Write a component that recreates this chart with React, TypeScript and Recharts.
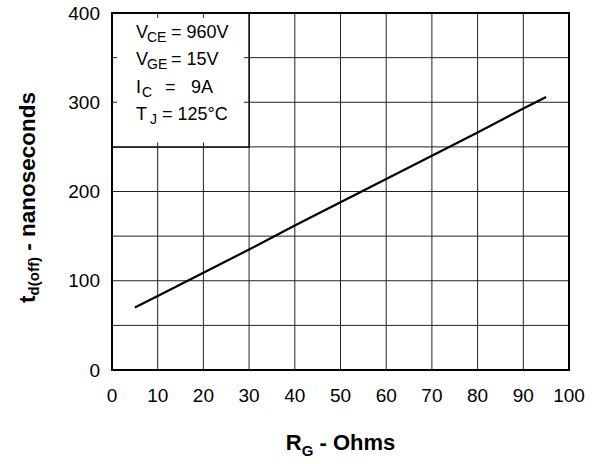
import React from "react";
import {
  LineChart,
  Line,
  XAxis,
  YAxis,
  CartesianGrid,
  ReferenceArea,
  ReferenceLine,
} from "recharts";

// gate resistance (ohms) vs turn-off delay (ns)
const rgOhms = [5, 10, 20, 30, 40, 50, 60, 70, 80, 90, 95];
const tdOffNs = [70, 83, 109, 135, 162, 188, 214, 240, 266, 293, 306];

const xTicks = [0, 10, 20, 30, 40, 50, 60, 70, 80, 90, 100];
const yTicks = [0, 50, 100, 150, 200, 250, 300, 350, 400];

const data = rgOhms.map((rg, i) => ({ rg, td: tdOffNs[i] }));

const FONT = "'Liberation Sans', Arial, sans-serif";

function ConditionsText(props: any) {
  const { x, y } = props.viewBox;
  const left = x + 24;
  const sub = { fontSize: 14 };
  return (
    <text fontFamily={FONT} fontSize={18} fill="#000">
      <tspan x={left} y={y + 25}>V</tspan>
      <tspan x={left + 11} dy={4} style={sub}>CE</tspan>
      <tspan x={left + 35} dy={-4}>= 960V</tspan>

      <tspan x={left} y={y + 52}>V</tspan>
      <tspan x={left + 11} dy={4} style={sub}>GE</tspan>
      <tspan x={left + 35} dy={-4}>= 15V</tspan>

      <tspan x={left} y={y + 80}>I</tspan>
      <tspan x={left + 6} dy={4} style={sub}>C</tspan>
      <tspan x={left + 29} dy={-4}>=</tspan>
      <tspan x={left + 55}>9A</tspan>

      <tspan x={left} y={y + 107}>T</tspan>
      <tspan x={left + 14} dy={4} style={sub}>J</tspan>
      <tspan x={left + 26} dy={-4}>= 125°C</tspan>
    </text>
  );
}

function XTitle(props: any) {
  const { x, width } = props.viewBox;
  return (
    <text
      x={x + width / 2}
      y={450}
      textAnchor="middle"
      fontFamily={FONT}
      fontWeight="bold"
      fontSize={22}
      fill="#000"
    >
      R<tspan dy={6} fontSize={15}>G</tspan>
      <tspan dy={-6}> - Ohms</tspan>
    </text>
  );
}

function YTitle(props: any) {
  const { y, height } = props.viewBox;
  const cx = 27;
  const cy = y + height / 2 + 6;
  return (
    <text
      x={cx}
      y={cy}
      transform={`rotate(-90 ${cx} ${cy})`}
      textAnchor="middle"
      dominantBaseline="central"
      fontFamily={FONT}
      fontWeight="bold"
      fontSize={22.5}
      fill="#000"
    >
      t<tspan dy={6} fontSize={15}>d(off)</tspan>
      <tspan dy={-6}> - nanoseconds</tspan>
    </text>
  );
}

const tickStyle = { fill: "#000", fontSize: 19, fontFamily: FONT };

// short inward ticks along the edges of the conditions box
const stubs: { x1: number; y1: number; x2: number; y2: number }[] = [
  { x1: 10, y1: 400, x2: 10, y2: 394.5 },
  { x1: 20, y1: 400, x2: 20, y2: 394.5 },
  { x1: 10, y1: 250, x2: 10, y2: 255 },
  { x1: 20, y1: 250, x2: 20, y2: 255 },
  { x1: 0, y1: 350, x2: 1.1, y2: 350 },
  { x1: 0, y1: 300, x2: 1.1, y2: 300 },
  { x1: 30, y1: 350, x2: 28.9, y2: 350 },
  { x1: 30, y1: 300, x2: 28.9, y2: 300 },
];

export default function App() {
  return (
    <div style={{ position: "absolute", left: 0, top: 0, background: "#fff" }}>
      <LineChart
        width={604}
        height={464}
        data={data}
        margin={{ top: 13, right: 35, bottom: 0, left: 0 }}
      >
        <CartesianGrid stroke="#222" strokeWidth={1} />
        <XAxis
          dataKey="rg"
          type="number"
          domain={[0, 100]}
          ticks={xTicks}
          interval={0}
          tick={tickStyle}
          tickLine={false}
          axisLine={false}
          tickSize={0}
          tickMargin={19}
          height={94}
          label={<XTitle />}
        />
        <YAxis
          type="number"
          domain={[0, 400]}
          ticks={yTicks}
          interval={0}
          tick={tickStyle}
          tickFormatter={(v: number) => (v % 100 === 0 ? String(v) : "")}
          tickLine={false}
          axisLine={false}
          tickSize={0}
          tickMargin={12}
          width={112}
          label={<YTitle />}
        />
        <ReferenceArea
          x1={0}
          x2={30}
          y1={250}
          y2={400}
          fill="#fff"
          fillOpacity={1}
          stroke="#000"
          strokeWidth={1.5}
          label={<ConditionsText />}
        />
        {stubs.map((s, i) => (
          <ReferenceLine
            key={i}
            segment={[
              { x: s.x1, y: s.y1 },
              { x: s.x2, y: s.y2 },
            ]}
            stroke="#222"
            strokeWidth={1}
          />
        ))}
        <ReferenceArea
          x1={0}
          x2={100}
          y1={0}
          y2={400}
          fill="none"
          stroke="#000"
          strokeWidth={2}
        />
        <Line
          dataKey="td"
          type="linear"
          stroke="#000"
          strokeWidth={2.2}
          dot={false}
          isAnimationActive={false}
        />
      </LineChart>
    </div>
  );
}
